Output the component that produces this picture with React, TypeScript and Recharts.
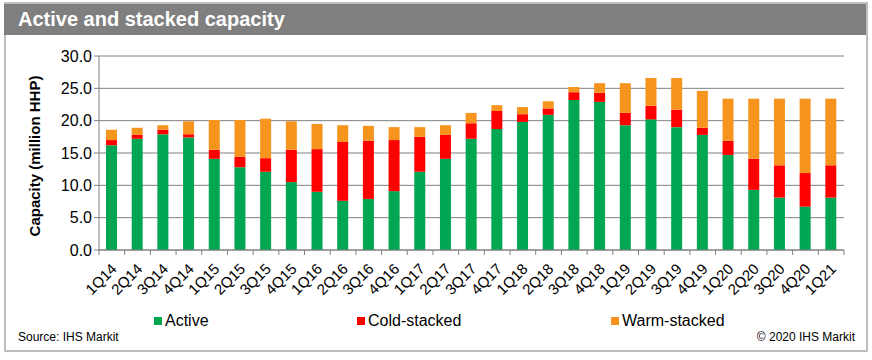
import { BarChart, Bar, XAxis, YAxis, CartesianGrid } from "recharts";

const quarters = [
  "1Q14", "2Q14", "3Q14", "4Q14", "1Q15", "2Q15", "3Q15", "4Q15",
  "1Q16", "2Q16", "3Q16", "4Q16", "1Q17", "2Q17", "3Q17", "4Q17",
  "1Q18", "2Q18", "3Q18", "4Q18", "1Q19", "2Q19", "3Q19", "4Q19",
  "1Q20", "2Q20", "3Q20", "4Q20", "1Q21",
];
const active = [
  16.2, 17.2, 17.9, 17.4, 14.1, 12.8, 12.1, 10.5,
  9.0, 7.6, 7.9, 9.1, 12.1, 14.1, 17.2, 18.7,
  19.8, 20.9, 23.2, 22.9, 19.3, 20.2, 19.0, 17.8,
  14.7, 9.3, 8.1, 6.7, 8.1,
];
const coldStacked = [
  0.8, 0.6, 0.7, 0.5, 1.4, 1.6, 2.1, 5.0,
  6.6, 9.1, 9.0, 7.9, 5.4, 3.7, 2.4, 2.8,
  1.2, 1.0, 1.2, 1.4, 1.9, 2.1, 2.7, 1.1,
  2.2, 4.8, 5.0, 5.2, 5.0,
];
const warmStacked = [
  1.6, 1.1, 0.7, 2.0, 4.6, 5.7, 6.1, 4.4,
  3.9, 2.6, 2.3, 2.0, 1.5, 1.5, 1.6, 0.9,
  1.1, 1.1, 0.8, 1.5, 4.6, 4.3, 4.9, 5.7,
  6.5, 9.3, 10.3, 11.5, 10.3,
];
const yTicks = [0, 5, 10, 15, 20, 25, 30];

const rows = quarters.map((q, i) => ({
  q,
  active: active[i],
  cold: coldStacked[i],
  warm: warmStacked[i],
}));

const FONT = "'Liberation Sans', Arial, sans-serif";
const PLOT_W = 745;
const BAND = PLOT_W / quarters.length;

function QuarterTick(props: any) {
  const { x, y, payload, index } = props;
  return (
    <g transform={`translate(${x},${y})`}>
      <line x1={BAND / 2} x2={BAND / 2} y1={0} y2={5} stroke="#808080" />
      {index === 0 && <line x1={-BAND / 2} x2={-BAND / 2} y1={0} y2={5} stroke="#808080" />}
      <text
        transform="translate(2,16) rotate(-45)"
        textAnchor="end"
        dominantBaseline="central"
        fontSize={15}
        fill="#000"
        fontFamily={FONT}
      >
        {payload.value}
      </text>
    </g>
  );
}

const legend = [
  { name: "Active", color: "#00a651", left: 154 },
  { name: "Cold-stacked", color: "#ff0000", left: 357 },
  { name: "Warm-stacked", color: "#f7941d", left: 611 },
];

export default function App() {
  return (
    <div style={{ position: "relative", width: 872, height: 360, fontFamily: FONT, background: "#fff" }}>
      <style>{"body{margin:0}"}</style>
      <div
        style={{
          position: "absolute", left: 4, top: 2, width: 864, height: 350,
          boxSizing: "border-box", border: "2px solid #bfbfbf",
        }}
      />
      <div
        style={{
          position: "absolute", left: 4, top: 4, width: 862, height: 31, background: "#7f7f7f",
          color: "#fff", fontWeight: "bold", fontSize: 20, lineHeight: "31px", paddingLeft: 14,
          boxSizing: "border-box",
        }}
      >
        Active and stacked capacity
      </div>
      <div style={{ position: "absolute", left: 0, top: 0 }}>
        <BarChart width={872} height={360} data={rows} margin={{ top: 56, right: 28, bottom: 0, left: 39 }}>
          <CartesianGrid vertical={false} stroke="#808080" />
          <XAxis
            dataKey="q"
            interval={0}
            height={110}
            tickSize={0}
            tickMargin={0}
            tick={<QuarterTick />}
            axisLine={{ stroke: "#808080" }}
            tickLine={false}
          />
          <YAxis
            width={60}
            domain={[0, 30]}
            ticks={yTicks}
            tickFormatter={(v: number) => v.toFixed(1)}
            tick={{ fontSize: 16, fill: "#000", fontFamily: FONT }}
            tickSize={5}
            tickLine={{ stroke: "#808080" }}
            axisLine={{ stroke: "#808080" }}
          />
          <Bar dataKey="active" stackId="s" fill="#00a651" barSize={11} isAnimationActive={false} />
          <Bar dataKey="cold" stackId="s" fill="#ff0000" barSize={11} isAnimationActive={false} />
          <Bar dataKey="warm" stackId="s" fill="#f7941d" barSize={11} isAnimationActive={false} />
        </BarChart>
      </div>
      <div
        style={{
          position: "absolute", left: 34, top: 156, transform: "translate(-50%,-50%) rotate(-90deg)",
          fontWeight: "bold", fontSize: 15, whiteSpace: "nowrap",
        }}
      >
        Capacity (million HHP)
      </div>
      {legend.map((l) => (
        <div
          key={l.name}
          style={{
            position: "absolute", left: l.left, top: 312, display: "flex", alignItems: "center",
            fontSize: 16, whiteSpace: "nowrap",
          }}
        >
          <span style={{ display: "inline-block", width: 8, height: 8, background: l.color, marginRight: 3 }} />
          {l.name}
        </div>
      ))}
      <div style={{ position: "absolute", left: 18, top: 330, fontSize: 12 }}>Source: IHS Markit</div>
      <div style={{ position: "absolute", right: 17, top: 330, fontSize: 12 }}>© 2020 IHS Markit</div>
    </div>
  );
}
